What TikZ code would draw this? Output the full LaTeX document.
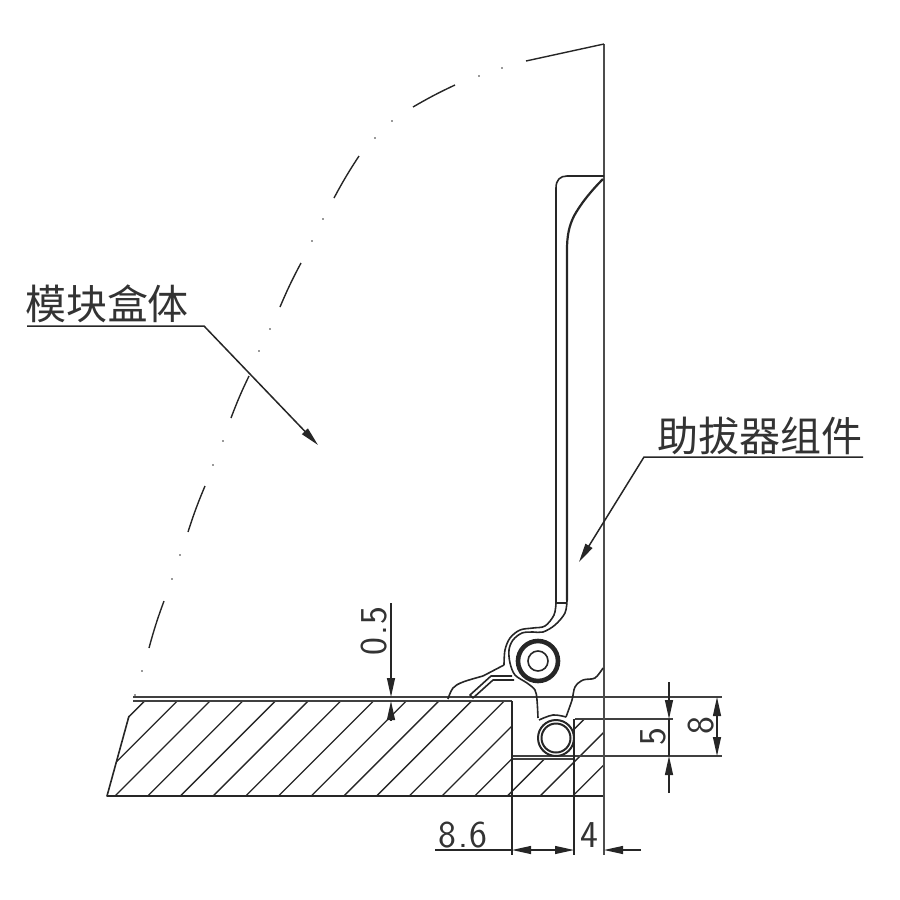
\documentclass[tikz,border=0pt]{standalone}
\usepackage{fontspec}
\newfontfamily\cjkfont{Noto Sans CJK SC}
\usetikzlibrary{arrows.meta}
\tikzset{
  partline/.style={line width=1.6, black!85, line join=round},
  wallline/.style={line width=2.2, black!70},
  baseline/.style={line width=1.5, black!75},
  arcline/.style={line width=1.4, black!85},
  arcdot/.style={circle, fill=black!80, inner sep=0, minimum size=1.8},
  hatchline/.style={line width=1.3, black!85},
  dimline/.style={line width=1.2, black!85},
  dimtip/.style={-{Triangle[length=19,width=8]}},
  dimtips/.style={{Triangle[length=19,width=8]}-{Triangle[length=19,width=8]}},
  numtext/.style={inner sep=0, font=\sffamily\fontsize{38}{38}\selectfont, black!80},
  cjktext/.style={inner sep=0, font=\cjkfont\fontsize{41}{41}\selectfont, black!80},
}
\begin{document}
\begin{tikzpicture}[x=1pt,y=-1pt]
  \useasboundingbox (0,0) rectangle (900,900);
  % hatching of the three cut blocks
  \begin{scope}
    \clip (129,714) -- (107,796) -- (512,796) -- (512,701) -- (133,701) -- cycle
      (512,759) rectangle (574,796)
      (574,719) rectangle (604,796);
    \foreach \k in {-3,...,14}
      \draw[hatchline] ({115+32.7*\k},796) -- ++(110,-110);
  \end{scope}
  % block outlines
  \draw[partline] (129,716) -- (107,796) -- (604,796);
  \draw[baseline] (133,701) -- (512,701);
  \draw[baseline] (133,697) -- (722,697);
  \draw[baseline] (513,759) -- (574,759);
  \draw[baseline] (513,756) -- (722,756);
  \draw[baseline] (575,719) -- (673,719);
  \draw[partline] (512,701) -- (512,855);
  \draw[partline] (574,719) -- (574,855);
  \draw[wallline] (604,44) -- (604,855);
  % dash-dot swing arc
  \draw[arcline] (604,44) -- (526,61);
  \foreach \ax/\ay/\bx/\by in {455/85/413/107,359/156/334/198,301/263/280/307,249/376/231/418,205/486/188/532,164/601/149/648}
    \draw[arcline] (\ax,\ay) to[bend right=2.5] (\bx,\by);
  \foreach \ax/\ay [count=\n] in {502/68,479/76,392/121,375/138,323/219,312/241,270/329,259/351,223/441,213/465,180/555,172/579,142/671,135/695}
    \node[arcdot] (D\n) at (\ax,\ay) {};
  % helper bracket
  \draw[partline] (604,176) -- (567,176) .. controls (560,176) and (556,180) .. (556,188) -- (556,603);
  \draw[partline, line width=2.2] (603,179) .. controls (590,192) and (580,205) .. (574,216)
    .. controls (569,226) and (567,236) .. (567,250) -- (567,600);
  \draw[partline] (556,603) -- (567,603);
  \draw[partline] plot[smooth, tension=0.55] coordinates {(556,603) (554,615) (545,626) (533,628) (520,630) (510,638) (505,650) (504,665)};
  \draw[partline] (504,665) -- (483,676);
  \draw[partline] plot[smooth, tension=0.6] coordinates {(483,676) (463,682) (453,688) (448,699)};
  \draw[partline] plot[smooth, tension=0.55] coordinates {(567,600) (565,613) (555,625) (543,632) (533,632) (522,633) (513,640) (509,650) (510,663) (515,675) (527,683) (535,690) (537,700) (538,718)};
  \draw[partline] plot[smooth, tension=0.6] coordinates {(539,720) (553,715) (566,717)};
  \draw[partline] plot[smooth, tension=0.55] coordinates {(566,717) (572,700) (575,687) (583,680) (595,678) (603,668)};
  % slot of the lever
  \draw[partline] (512,676) -- (491,676) -- (470,695) -- (473,698) -- (493,680) -- (514,680);
  % pivot and pin
  \coordinate (pivot) at (538,661);
  \coordinate (pin) at (556,738);
  \draw[line width=4.6, black!85] (pivot) circle (20);
  \draw[partline] (pivot) circle (10);
  \draw[partline, line width=2] (pin) circle (18);
  \draw[partline, line width=2] (pin) circle (14.5);
  % leaders
  \coordinate (boxstart) at (27,326);
  \coordinate (boxknee) at (204,326);
  \coordinate (boxtip) at (318,445);
  \coordinate (helperend) at (863,457);
  \coordinate (helperknee) at (644,457);
  \coordinate (helpertip) at (579,562);
  \draw[dimline, line width=1.5, dimtip] (boxstart) -- (boxknee) -- (boxtip);
  \draw[dimline, line width=1.5, dimtip] (helperend) -- (helperknee) -- (helpertip);
  \node[cjktext] (boxlabel) at (107,304) {模块盒体};
  \node[cjktext] (helperlabel) at (760,436) {助拔器组件};
  % dimension 0.5
  \coordinate (dAtop) at (391,603);
  \coordinate (dAtip) at (391,697);
  \coordinate (dBtip) at (391,701);
  \coordinate (dBend) at (391,721);
  \draw[dimline, dimtip] (dAtop) -- (dAtip);
  \draw[dimline, dimtip] (dBend) -- (dBtip);
  \node[numtext, rotate=90] (lblA) at (374,631) {0\hspace{2pt}.\hspace{2pt}5};
  % dimensions 5 and 8
  \coordinate (dCtop) at (669,682);
  \coordinate (dCtip) at (669,719);
  \coordinate (dDtip) at (669,756);
  \coordinate (dDend) at (669,793);
  \draw[dimline, dimtip] (dCtop) -- (dCtip);
  \draw[dimline] (dCtip) -- (dDtip);
  \draw[dimline, dimtip] (dDend) -- (dDtip);
  \node[numtext, rotate=90] (lblB) at (653,737) {5};
  \coordinate (dEtop) at (717,697);
  \coordinate (dEend) at (717,756);
  \draw[dimline, dimtips] (dEtop) -- (dEend);
  \node[numtext, rotate=90] (lblC) at (701,726) {8};
  % dimensions 8.6 and 4
  \coordinate (dFstart) at (435,850);
  \coordinate (dFleft) at (512,850);
  \coordinate (dFright) at (574,850);
  \coordinate (dGtip) at (604,850);
  \coordinate (dGend) at (641,850);
  \draw[dimline] (dFstart) -- (dFleft);
  \draw[dimline, dimtips] (dFleft) -- (dFright);
  \draw[dimline, dimtip] (dGend) -- (dGtip);
  \node[numtext] (lblD) at (463,835) {8\hspace{2pt}.\hspace{2pt}6};
  \node[numtext] (lblE) at (589,835) {4};
\end{tikzpicture}
\end{document}
